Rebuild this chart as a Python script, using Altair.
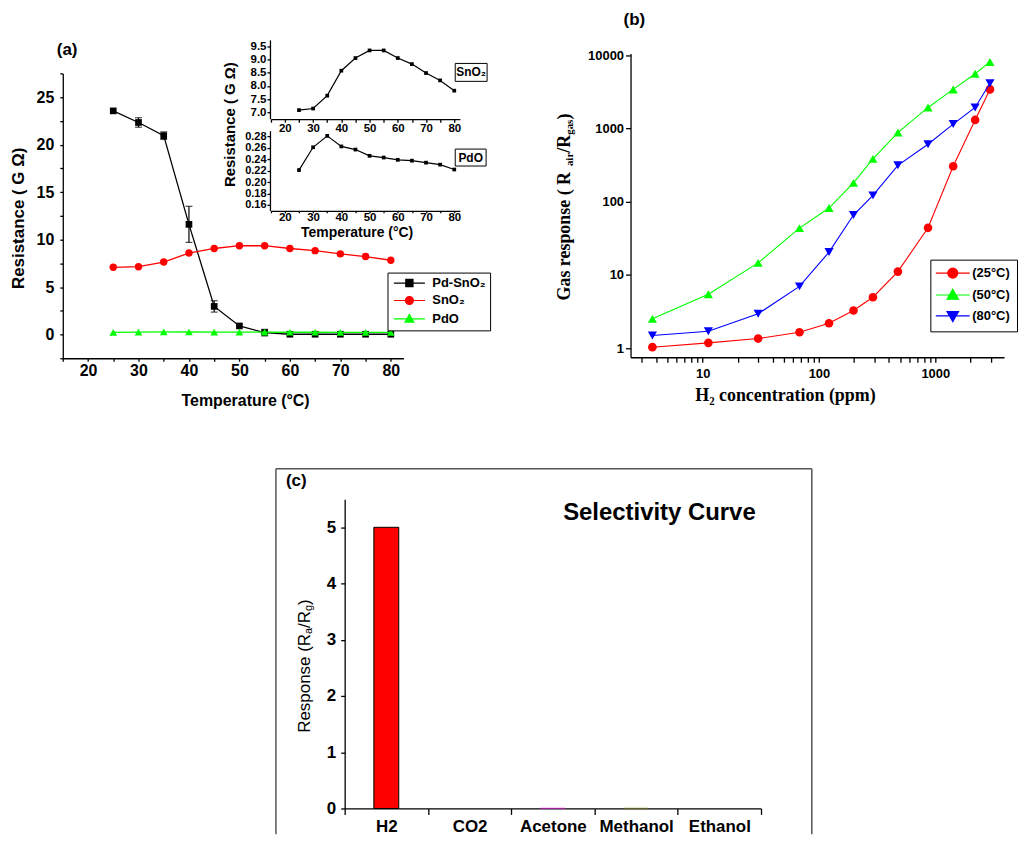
import altair as alt
import pandas as pd

# ------------------------------------------------------------------ data
# (a) resistance vs temperature
temperature = [25, 30, 35, 40, 45, 50, 55, 60, 65, 70, 75, 80]
pd_sno2 = [23.55, 22.33, 20.94, 11.6, 2.96, 0.9, 0.2, 0.03, 0.03, 0.03, 0.03, 0.03]
pd_sno2_err = [0.0, 0.5, 0.4, 1.9, 0.6, 0.0, 0.35, 0.0, 0.0, 0.0, 0.0, 0.0]
sno2 = [7.08, 7.14, 7.63, 8.58, 9.06, 9.35, 9.35, 9.06, 8.83, 8.49, 8.21, 7.82]
pdo = [0.221, 0.261, 0.281, 0.2625, 0.257, 0.246, 0.243, 0.239, 0.2375, 0.234, 0.2305, 0.222]
series_a = ["Pd-SnO₂", "SnO₂", "PdO"]

# (b) gas response vs H2 concentration
h2_ppm = [3.7, 11.2, 30, 68, 122, 198, 291, 477, 866, 1425, 2200, 2950]
resp_25c = [1.03, 1.18, 1.35, 1.65, 2.19, 3.26, 4.96, 11.1, 44, 305, 1310, 3420]
resp_50c = [2.51, 5.45, 14.6, 43.6, 82, 181, 385, 880, 1940, 3420, 5600, 8120]
resp_80c = [1.49, 1.70, 2.94, 6.97, 20.5, 65.8, 122, 314, 610, 1150, 1940, 4150]
series_b = ["(25°C)", "(50°C)", "(80°C)"]

# (c) selectivity
gases = ["H2", "CO2", "Acetone", "Methanol", "Ethanol"]
gas_response = [5.0, 0.0, 0.012, 0.012, 0.0]

# axis ticks / labels
a_xticks = list(range(15, 85, 5))
a_xlabels = list(range(20, 90, 10))
a_yticks = [i * 2.5 for i in range(-1, 12)]
a_ylabels = [0, 5, 10, 15, 20, 25]
sn_yticks = [7.0, 7.5, 8.0, 8.5, 9.0, 9.5]
pdo_yticks = [0.16, 0.18, 0.20, 0.22, 0.24, 0.26, 0.28]
b_xticks = [3, 4, 5, 6, 7, 8, 9, 10, 20, 30, 40, 50, 60, 70, 80, 90,
            100, 200, 300, 400, 500, 600, 700, 800, 900, 1000, 2000, 3000]
b_xlabels = [10, 100, 1000]
b_yticks = [1, 10, 100, 1000, 10000]
c_yticks = [i * 0.5 for i in range(0, 11)]
c_ylabels = [0, 1, 2, 3, 4, 5]

# ------------------------------------------------------------------ style
FONT = "Liberation Sans"
SERIF = "Liberation Serif"
W, H = 1006, 828
BLACK = "black"
RED, GREEN, BLUE = "#ff0000", "#00ff00", "#0000ff"
MAGENTA, OLIVE = "#ff00ff", "#808000"


def gx(px):
    """reference page pixel -> chart pixel"""
    return px - 8


def axis(orient, at, values=None, shown=None, fmt=None, lsize=16, tick=4, pad=3,
         title=None, tsize=16, tfont=FONT, tweight="bold", tpos=None, **kw):
    p = dict(orient=orient, offset=(at - H) if orient == "bottom" else -at,
             domainColor=BLACK, domainWidth=1.3, tickColor=BLACK, tickWidth=1.3,
             tickSize=tick, labelFont=FONT, labelFontSize=lsize, labelFontWeight="bold",
             labelColor=BLACK, labelPadding=pad, labelFlush=False, labelOverlap=False,
             grid=False, title=title)
    if values is not None:
        p["values"] = values
    if shown is not None:
        p["labelExpr"] = "indexof([%s], datum.value) >= 0 ? datum.label : ''" % ",".join(
            repr(v) for v in shown)
    if fmt:
        p["format"] = fmt
    if title:
        p.update(titleFont=tfont, titleFontSize=tsize, titleFontWeight=tweight,
                 titleColor=BLACK, titleX=tpos[0], titleY=tpos[1], titleAlign="center",
                 titleBaseline="middle", titleAngle=270 if orient == "left" else 0)
    p.update(kw)
    return alt.Axis(**p)


def legend(x, y, pad, so, lo, rowpad, lsize, size):
    return alt.Legend(orient="none", legendX=x, legendY=y, title=None, direction="vertical",
                      padding=pad, strokeColor=BLACK, fillColor="white", symbolOffset=so,
                      labelOffset=lo, rowPadding=rowpad, labelFont=FONT, labelFontSize=lsize,
                      labelFontWeight="bold", labelColor=BLACK, symbolStrokeWidth=1.2,
                      symbolSize=size, labelLimit=300)


def text(s, x, y, size, font=FONT, weight="bold", angle=0, align="left", baseline="middle"):
    return alt.Chart(alt.Data(values=[{"t": s}])).mark_text(
        font=font, fontSize=size, fontWeight=weight, angle=angle, align=align,
        baseline=baseline, color=BLACK).encode(text="t:N", x=alt.value(x), y=alt.value(y))


def rule(x1, y1, x2=None, y2=None, color="#555555", w=1.5):
    enc = dict(x=alt.value(x1), y=alt.value(y1))
    if x2 is not None:
        enc["x2"] = alt.value(x2)
    if y2 is not None:
        enc["y2"] = alt.value(y2)
    return alt.Chart(alt.Data(values=[{}])).mark_rule(color=color, strokeWidth=w).encode(**enc)


def box(x1, x2, y1, y2):
    return alt.Chart(alt.Data(values=[{}])).mark_rect(
        fill="white", stroke=BLACK, strokeWidth=1).encode(
        x=alt.value(x1), x2=alt.value(x2), y=alt.value(y1), y2=alt.value(y2))


# ------------------------------------------------------------------ panel (a)
a_df = pd.DataFrame({"T": temperature, "pd": pd_sno2, "err": pd_sno2_err,
                     "sn": sno2, "pdo": pdo})
a_df["lo"] = a_df["pd"] - a_df["err"]
a_df["hi"] = a_df["pd"] + a_df["err"]

xA = dict(scale=alt.Scale(domain=[15, 82.5], range=[gx(63), gx(405)], nice=False, zero=False),
          axis=axis("bottom", gx(358), values=a_xticks, shown=a_xlabels, fmt="d", lsize=16,
                    tick=3, pad=1, title="Temperature (°C)", tsize=16, tpos=(gx(246), 42)))
yA = dict(scale=alt.Scale(domain=[-2.5, 27.5], range=[gx(358), gx(72)], nice=False, zero=False),
          axis=axis("left", gx(63), values=a_yticks, shown=a_ylabels, fmt="d", lsize=16,
                    tick=3, pad=6, title="Resistance ( G Ω)", tsize=17,
                    tpos=(18.5 - 63, gx(217))))

baseA = alt.Chart(a_df)
XA = alt.X("T:Q", **xA)


def YA(f):
    return alt.Y(f + ":Q", **yA)


a_layers = []
for f, col, shp, sz in [("pd", BLACK, "square", 45), ("sn", RED, "circle", 55),
                        ("pdo", GREEN, "triangle-up", 60)]:
    a_layers.append(baseA.mark_line(color=col, strokeWidth=1.3).encode(x=XA, y=YA(f)))
    if f == "pd":
        a_layers.append(baseA.transform_filter("datum.err > 0").mark_errorbar(
            ticks=True, color=BLACK, size=7, thickness=1.2).encode(
            x=XA, y=YA("lo"), y2=alt.Y2("hi:Q")))
    a_layers.append(baseA.mark_point(shape=shp, filled=True, size=sz, color=col, opacity=1)
                    .encode(x=XA, y=YA(f)))

paths_a = ["M-3.9,0H3.9M-0.9,-0.9H0.9V0.9H-0.9Z",
           "M-3.9,0H3.9M1,0A1,1,0,1,1,-1,0A1,1,0,1,1,1,0Z",
           "M-3.9,0H3.9M0,-1.1L1.1,0.8H-1.1Z"]
legA = legend(gx(389), gx(272), 4, 11.5, 16.5, 3.5, 13, 64)
leg_df_a = pd.DataFrame({"series": series_a, "T": [None] * 3, "v": [None] * 3})
a_layers.append(alt.Chart(leg_df_a).mark_point(filled=True, opacity=1, size=64).encode(
    x=alt.X("T:Q", **xA), y=alt.Y("v:Q", **yA),
    fill=alt.Fill("series:N", scale=alt.Scale(domain=series_a, range=[BLACK, RED, GREEN]),
                  legend=legA),
    stroke=alt.Stroke("series:N", scale=alt.Scale(domain=series_a, range=[BLACK, RED, GREEN]),
                      legend=legA),
    shape=alt.Shape("series:N", scale=alt.Scale(domain=series_a, range=paths_a), legend=legA)))
panelA = alt.layer(*a_layers)

# ------------------------------------------------------------------ inset of (a)
xI_scale = alt.Scale(domain=[15, 82], range=[gx(271.8), gx(461.7)], nice=False, zero=False)
inset_sn = alt.layer(
    baseA.mark_line(color=BLACK, strokeWidth=1.2),
    baseA.mark_point(shape="square", filled=True, size=14, color=BLACK, opacity=1),
).encode(
    x=alt.X("T:Q", scale=xI_scale,
            axis=axis("bottom", gx(118), values=a_xticks, shown=a_xlabels, fmt="d", lsize=11.5,
                      tick=3, pad=0)),
    y=alt.Y("sn:Q", scale=alt.Scale(domain=[6.75, 9.75], range=[gx(117.6), gx(38.4)],
                                    nice=False, zero=False),
            axis=axis("left", gx(271), values=sn_yticks, fmt=".1f", lsize=11.5, tick=3, pad=1,
                      title="Resistance ( G Ω)", tsize=15, tpos=(230 - 271, gx(123)))),
)
inset_pd = alt.layer(
    baseA.mark_line(color=BLACK, strokeWidth=1.2),
    baseA.mark_point(shape="square", filled=True, size=14, color=BLACK, opacity=1),
).encode(
    x=alt.X("T:Q", scale=xI_scale,
            axis=axis("bottom", gx(210), values=a_xticks, shown=a_xlabels, fmt="d", lsize=11.5,
                      tick=2, pad=-1, title="Temperature (°C)", tsize=14,
                      tpos=(gx(358), 21.5))),
    y=alt.Y("pdo:Q", scale=alt.Scale(domain=[0.15, 0.29], range=[gx(209.7), gx(129.6)],
                                     nice=False, zero=False),
            axis=axis("left", gx(271), values=pdo_yticks, fmt=".2f", lsize=11, tick=3, pad=1)),
)

# ------------------------------------------------------------------ panel (b)
b_df = pd.DataFrame({"c": h2_ppm, "r25": resp_25c, "r50": resp_50c, "r80": resp_80c})
xB = dict(scale=alt.Scale(type="log", domain=[2.4, 3900], range=[gx(633), gx(1008)],
                          nice=False),
          axis=axis("bottom", gx(357), values=b_xticks, shown=b_xlabels, fmt="d", lsize=13,
                    tick=5, pad=5, title="H₂ concentration (ppm)", tsize=18, tfont=SERIF,
                    tpos=(gx(788), 38)))
yB = dict(scale=alt.Scale(type="log", domain=[0.75, 10600], range=[gx(357), gx(52)],
                          nice=False),
          axis=axis("left", gx(633), values=b_yticks, fmt="d", lsize=13, tick=5, pad=2))
baseB = alt.Chart(b_df)
b_layers = []
for f, col, shp, sz in [("r25", RED, "circle", 75), ("r50", GREEN, "triangle-up", 85),
                        ("r80", BLUE, "triangle-down", 85)]:
    b_layers.append(baseB.mark_line(color=col, strokeWidth=1.1).encode(
        x=alt.X("c:Q", **xB), y=alt.Y(f + ":Q", **yB)))
    b_layers.append(baseB.mark_point(shape=shp, filled=True, size=sz, color=col, opacity=1)
                    .encode(x=alt.X("c:Q", **xB), y=alt.Y(f + ":Q", **yB)))

paths_b = ["M-3.4,0H3.4M1,0A1,1,0,1,1,-1,0A1,1,0,1,1,1,0Z",
           "M-3.4,0H3.4M0,-1.15L1.15,0.85H-1.15Z",
           "M-3.4,0H3.4M0,1.15L1.15,-0.85H-1.15Z"]
legB = legend(926, gx(259), 7, 9, 13, 6, 13, 100)
leg_df_b = pd.DataFrame({"series": series_b, "c": [None] * 3, "v": [None] * 3})
b_layers.append(alt.Chart(leg_df_b).mark_point(filled=True, opacity=1, size=100).encode(
    x=alt.X("c:Q", **xB), y=alt.Y("v:Q", **yB),
    fill=alt.Fill("series:N", scale=alt.Scale(domain=series_b, range=[RED, GREEN, BLUE]),
                  legend=legB),
    stroke=alt.Stroke("series:N", scale=alt.Scale(domain=series_b, range=[RED, GREEN, BLUE]),
                      legend=legB),
    shape=alt.Shape("series:N", scale=alt.Scale(domain=series_b, range=paths_b), legend=legB)))
panelB = alt.layer(*b_layers)

# ------------------------------------------------------------------ panel (c)
c_df = pd.DataFrame({"gas": gases, "response": gas_response})
panelC = alt.Chart(c_df).mark_bar(size=25, strokeWidth=1).encode(
    x=alt.X("gas:N", sort=gases,
            scale=alt.Scale(domain=gases, range=[gx(346), gx(764)], paddingInner=0,
                            paddingOuter=0),
            axis=axis("bottom", gx(810), lsize=17, tick=6, pad=4, tickBand="extent",
                      labelAngle=0)),
    y=alt.Y("response:Q", scale=alt.Scale(domain=[0, 5.5], range=[gx(810), gx(499.5)],
                                          nice=False, zero=False),
            axis=axis("left", gx(346), values=c_yticks, shown=c_ylabels, fmt="d", lsize=17,
                      tick=4, pad=5)),
    fill=alt.Fill("gas:N", scale=alt.Scale(domain=gases,
                                           range=[RED, GREEN, MAGENTA, OLIVE, BLUE]),
                  legend=None),
    stroke=alt.condition("datum.response >= 1", alt.value(BLACK), alt.value("transparent")),
)

# ------------------------------------------------------------------ annotations
gas_title_segments = [("Gas response ( R", 18, 0), ("air", 11, 5), ("/R", 18, 0),
                      ("gas", 11, 5), (")", 18, 0)]
gas_widths = [134.9, 13.4, 18.0, 15.3, 4.5]
annotations = [
    text("(a)", gx(57), gx(49), 17),
    text("(b)", gx(626), gx(18), 17),
    text("(c)", gx(287), gx(481), 17),
    text("Selectivity Curve", gx(662), gx(513), 24, align="center"),
    box(gx(457), gx(489), gx(62), gx(80)),
    text("SnO₂", gx(473), gx(71), 12, align="center"),
    box(gx(457), gx(488), gx(148), gx(165)),
    text("PdO", gx(472.5), gx(156.5), 12, align="center"),
    rule(gx(277), gx(469), x2=gx(815)),
    rule(gx(277), gx(469), y2=H),
    rule(gx(815), gx(469), y2=H),
]
ypos = gx(300)
for (s, sz, dx), w in zip(gas_title_segments, gas_widths):
    annotations.append(text(s, gx(567) + dx, ypos, sz, font=SERIF, angle=270))
    ypos -= w
resp_segments = [("Response (R", 17, 0), ("a", 11, 4), ("/R", 17, 0), ("g", 11, 4), (")", 17, 0)]
resp_widths = [99.2, 6.1, 17.0, 6.1, 5.7]
ypos = gx(734)
for (s, sz, dx), w in zip(resp_segments, resp_widths):
    annotations.append(text(s, gx(306) + dx, ypos, sz, weight="normal", angle=270))
    ypos -= w

chart = alt.layer(panelA, inset_sn, inset_pd, panelB, panelC, *annotations).resolve_scale(
    x="independent", y="independent", fill="independent", stroke="independent",
    shape="independent",
).properties(width=W, height=H, padding=0, background="white").configure_view(stroke=None)

chart.save("out.html", embed_options={"renderer": "svg", "actions": False})
